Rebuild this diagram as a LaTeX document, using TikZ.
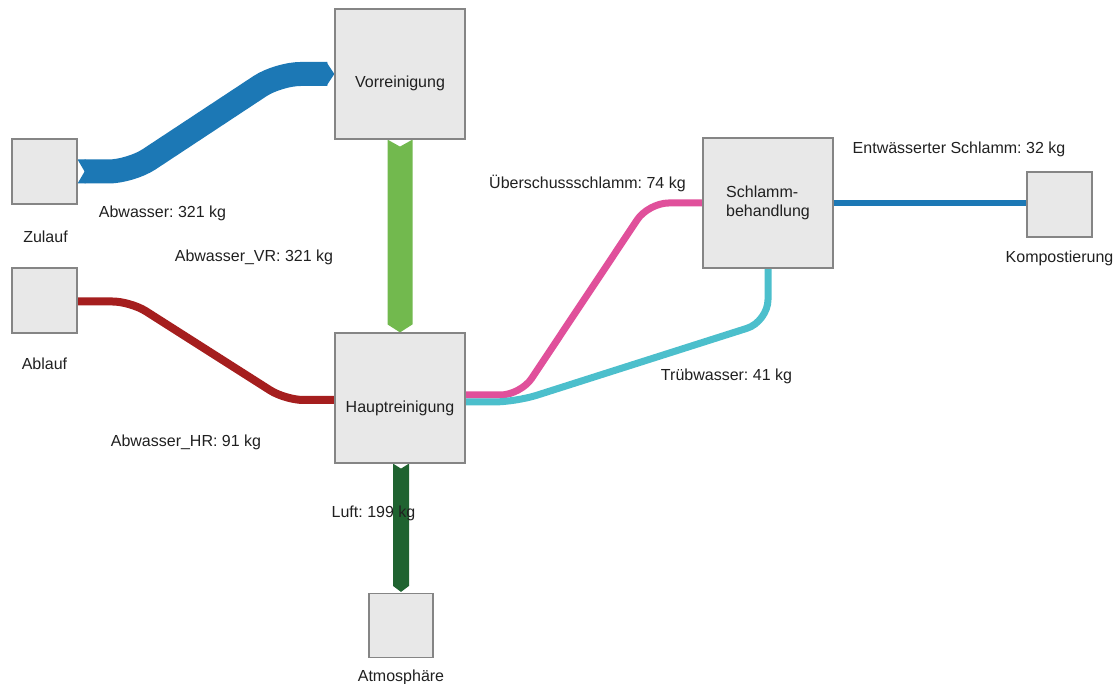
\documentclass[tikz,border=0pt]{standalone}
\usepackage{fontspec}
\setmainfont{Liberation Sans}
\usetikzlibrary{calc}
\frenchspacing

\definecolor{boxfill}{HTML}{E8E8E8}
\definecolor{boxline}{HTML}{858585}
\definecolor{txt}{HTML}{202020}
\definecolor{flowblue}{HTML}{1C78B5}
\definecolor{flowgreen}{HTML}{72B94E}
\definecolor{flowdark}{HTML}{1F6330}
\definecolor{flowred}{HTML}{A51E1E}
\definecolor{flowpink}{HTML}{E0509B}
\definecolor{flowcyan}{HTML}{4CBFCC}

\begin{document}
\begin{tikzpicture}[x=1pt,y=-1pt,
  box/.style={draw=boxline, fill=boxfill, line width=1.2pt,
              minimum size=#1, inner sep=0pt},
  lbl/.style={text=txt, font=\fontsize{16}{19}\selectfont, inner sep=0pt},
  band/.style={line cap=butt, line join=round, rounded corners=#1},
]
\useasboundingbox (0,0) rectangle (1117,684);

% process boxes (placed first so flows can refer to them, redrawn on top later)
\path
  node[box=65pt]  (zul)  at (44.5,171.5) {}
  node[box=65pt]  (abl)  at (44.5,300.5) {}
  node[box=130pt] (vor)  at (400,74)     {}
  node[box=130pt] (hr)   at (400,398)    {}
  node[box=130pt] (sb)   at (768,203)    {}
  node[box=65pt]  (komp) at (1059.5,204.5) {}
  node[box=64pt]  (atm)  at (401,625.5)  {};

% Abwasser: Zulauf -> Vorreinigung (wide band with notched tail and pointed head)
\draw[flowblue, line width=24pt, band=22pt]
  ($(zul.east)+(7,0)$) -- ($(zul.east)+(53,0)$)
  -- ($(vor.west)+(-56,0)$) -- ($(vor.west)+(-7,0)$);
\fill[flowblue] ($(zul.east)+(0,-12)$) -- ($(zul.east)+(8,-12)$)
  -- ($(zul.east)+(8,12)$) -- ($(zul.east)+(0,12)$) -- ($(zul.east)+(7,0)$) -- cycle;
\fill[flowblue] ($(vor.west)+(-8,-12)$) -- (vor.west) -- ($(vor.west)+(-8,12)$) -- cycle;

% Abwasser_VR: Vorreinigung -> Hauptreinigung
\fill[flowgreen]
  ($(vor.south)+(-12.5,0)$) -- ($(vor.south)+(0,7)$) -- ($(vor.south)+(12.5,0)$)
  -- ($(hr.north)+(12.5,-8)$) -- (hr.north) -- ($(hr.north)+(-12.5,-8)$) -- cycle;

% Luft: Hauptreinigung -> Atmosphaere
\fill[flowdark]
  ($(hr.south)+(-7,0)$) -- ($(hr.south)+(1,5)$) -- ($(hr.south)+(9,0)$)
  -- ($(atm.north)+(8,-7)$) -- ($(atm.north)+(0,-1)$) -- ($(atm.north)+(-8,-7)$) -- cycle;

% Abwasser_HR: Hauptreinigung -> Ablauf
\draw[flowred, line width=8pt, band=18pt]
  ($(hr.west)+(0,2)$) -- ($(hr.west)+(-49,2)$)
  -- ($(abl.east)+(53,1)$) -- ($(abl.east)+(0,1)$);

% Ueberschussschlamm: Hauptreinigung -> Schlammbehandlung
\draw[flowpink, line width=7pt, band=20pt]
  ($(hr.east)+(0,-3)$) -- ($(hr.east)+(55,-3)$)
  -- ($(sb.west)+(-54,0)$) -- (sb.west);

% Truebwasser: Schlammbehandlung -> Hauptreinigung
\draw[flowcyan, line width=7pt, band=22pt]
  (sb.south) -- ($(sb.south)+(0,53)$)
  -- ($(hr.east)+(50,4)$) -- ($(hr.east)+(0,4)$);

% Entwaesserter Schlamm: Schlammbehandlung -> Kompostierung
\draw[flowblue, line width=6pt] (sb.east) -- (sb.east -| komp.west);

% boxes on top of the flow ends
\foreach \n/\s in {zul/65pt, abl/65pt, vor/130pt, hr/130pt, sb/130pt, komp/65pt, atm/64pt}
  \node[box=\s] at (\n.center) {};

% box captions
\node[lbl, anchor=base] (vorT) at ($(vor.center)+(0,14)$) {Vorreinigung};
\node[lbl, anchor=base] (hrT)  at ($(hr.center)+(0,15)$)  {Hauptreinigung};
\node[lbl, align=left]  (sbT)  at (sb.center) {Schlamm-\\behandlung};
\node[lbl, anchor=base] (zulT)  at ($(zul.south)+(1,38)$)  {Zulauf};
\node[lbl, anchor=base] (ablT)  at ($(abl.south)+(0,36)$)  {Ablauf};
\node[lbl, anchor=base] (kompT) at ($(komp.south)+(0,25)$) {Kompostierung};
\node[lbl, anchor=base] (atmT)  at ($(atm.south)+(0,23)$)  {Atmosphäre};

% flow labels
\node[lbl, anchor=base] (l1) at (162.5,218) {Abwasser: 321 kg};
\node[lbl, anchor=base] (l2) at (254,262)   {Abwasser\_VR: 321 kg};
\node[lbl, anchor=base] (l3) at (186,447)   {Abwasser\_HR: 91 kg};
\node[lbl, anchor=base] (l4) at (587.5,189) {Überschussschlamm: 74 kg};
\node[lbl, anchor=base] (l5) at (959,154)   {Entwässerter Schlamm: 32 kg};
\node[lbl, anchor=base] (l6) at (726.5,381) {Trübwasser: 41 kg};
\node[lbl, anchor=base] (l7) at (373.5,517) {Luft: 199 kg};
\end{tikzpicture}
\end{document}
